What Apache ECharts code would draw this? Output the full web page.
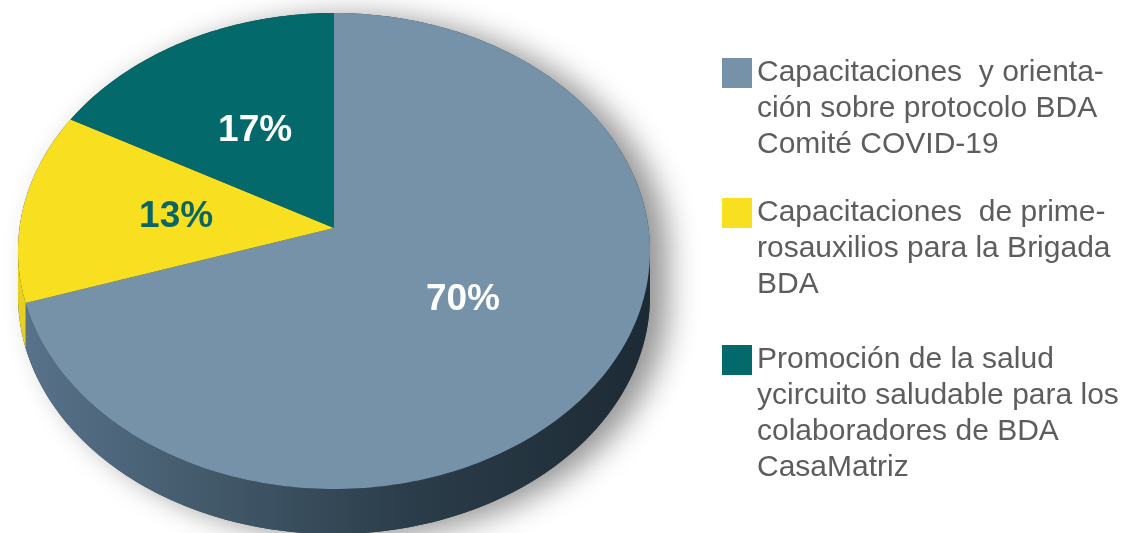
<!DOCTYPE html>
<html><head><meta charset="utf-8">
<script src="https://cdn.jsdelivr.net/npm/echarts@6/dist/echarts.min.js"></script>
<style>html,body{margin:0;padding:0;background:#fff}#c{width:1125px;height:533px}</style>
</head><body><div id="c"></div>
<script>
// ---- data ----
const categories = [
  'Capacitaciones  y orienta-\nción sobre protocolo BDA\nComité COVID-19',
  'Capacitaciones  de prime-\nrosauxilios para la Brigada\nBDA',
  'Promoción de la salud\nycircuito saludable para los\ncolaboradores de BDA\nCasaMatriz'
];
const values = [70, 13, 17];
const valueLabels = ['70%', '13%', '17%'];

// ---- styles ----
const topColors = ['#7592a9', '#f8e020', '#03696a'];
const sideStops = [
  [[0, '#58728a'], [0.3, '#42596a'], [0.6, '#2c3e4b'], [1, '#1c2a34']],
  [[0, '#e8d11e'], [1, '#e8d11e']],
  [[0, '#035759'], [1, '#035759']]
];
const labelColors = ['#ffffff', '#0b6663', '#ffffff'];
const G = {cx: 334, cy: 251, rx: 316, ry: 238, depth: 45, t: -0.0966};
const lineH = 36;
const legendIconTops = [58, 198, 345];

const total = values.reduce((a, b) => a + b, 0);
const starts = [];
let acc = 0;
values.forEach(v => { starts.push(acc / total * 360); acc += v; });

function proj(r, thetaDeg, dy) {
  const a = thetaDeg * Math.PI / 180;
  const u = r * Math.sin(a), v = -r * Math.cos(a);
  const d = 1 + G.t * v;
  const up = u * Math.sqrt(1 - G.t * G.t) / d, vp = (v + G.t) / d;
  return [G.cx + G.rx * up, G.cy + G.ry * vp + (dy || 0)];
}
function arc(a, b, dy) {
  const pts = [];
  const n = Math.max(2, Math.ceil(Math.abs(b - a)));
  for (let i = 0; i <= n; i++) pts.push(proj(1, a + (b - a) * i / n, dy));
  return pts;
}
const visLo = Math.acos(G.t) * 180 / Math.PI;
const visHi = 360 - visLo;

const series = [{
  type: 'custom', name: 'base', coordinateSystem: 'none', silent: true,
  data: [[total]],
  renderItem: function () {
    const pts = arc(visHi, visLo + 360, 0).concat(arc(visLo, visHi, G.depth));
    return {
      type: 'polygon', shape: {points: pts},
      style: {fill: '#2a3a46', shadowBlur: 30, shadowColor: 'rgba(0,0,0,0.42)', shadowOffsetX: 18, shadowOffsetY: 4}
    };
  }
}];

categories.forEach((name, i) => {
  series.push({
    type: 'custom', name: name, coordinateSystem: 'none', silent: true,
    itemStyle: {color: topColors[i]},
    data: [[values[i]]],
    renderItem: function (params, api) {
      const s = starts[i];
      const e = s + api.value(0) / total * 360;
      const children = [];
      const lo = Math.max(s, visLo), hi = Math.min(e, visHi);
      if (hi > lo) {
        const sp = arc(lo, hi, 0).concat(arc(hi, lo, G.depth));
        children.push({
          type: 'polygon', shape: {points: sp},
          style: {fill: new echarts.graphic.LinearGradient(0, 0, 1, 0,
            sideStops[i].map(p => ({offset: p[0], color: p[1]})))}
        });
      }
      const tp = [proj(0, 0, 0)].concat(arc(s, e, 0));
      children.push({type: 'polygon', shape: {points: tp}, style: {fill: topColors[i]}});
      const lp = proj(0.5, (s + e) / 2, 0);
      children.push({
        type: 'text',
        style: {text: valueLabels[i], x: lp[0] - 2, y: lp[1], fill: labelColors[i],
          font: 'bold 37px "Liberation Sans", Arial, sans-serif', align: 'center', verticalAlign: 'middle'}
      });
      return {type: 'group', children: children};
    }
  });
});

const legends = categories.map((name, i) => {
  const n = name.split('\n').length;
  const H = (2 * n - 1) * lineH;
  return {
    data: [name], orient: 'vertical', left: 722, top: legendIconTops[i] + 15 - H / 2,
    padding: 0, itemWidth: 30, itemHeight: 30, itemGap: 0, icon: 'rect', selectedMode: false,
    formatter: function (nm) { return '\n'.repeat(n - 1) + nm; },
    textStyle: {fontSize: 30, fontFamily: '"Liberation Sans", Arial, sans-serif', color: '#5d5d5d',
      lineHeight: lineH}
  };
});

const chart = echarts.init(document.getElementById('c'), null, {renderer: 'canvas'});
chart.setOption({
  animation: false,
  backgroundColor: '#ffffff',
  legend: legends,
  series: series
});
</script></body></html>
